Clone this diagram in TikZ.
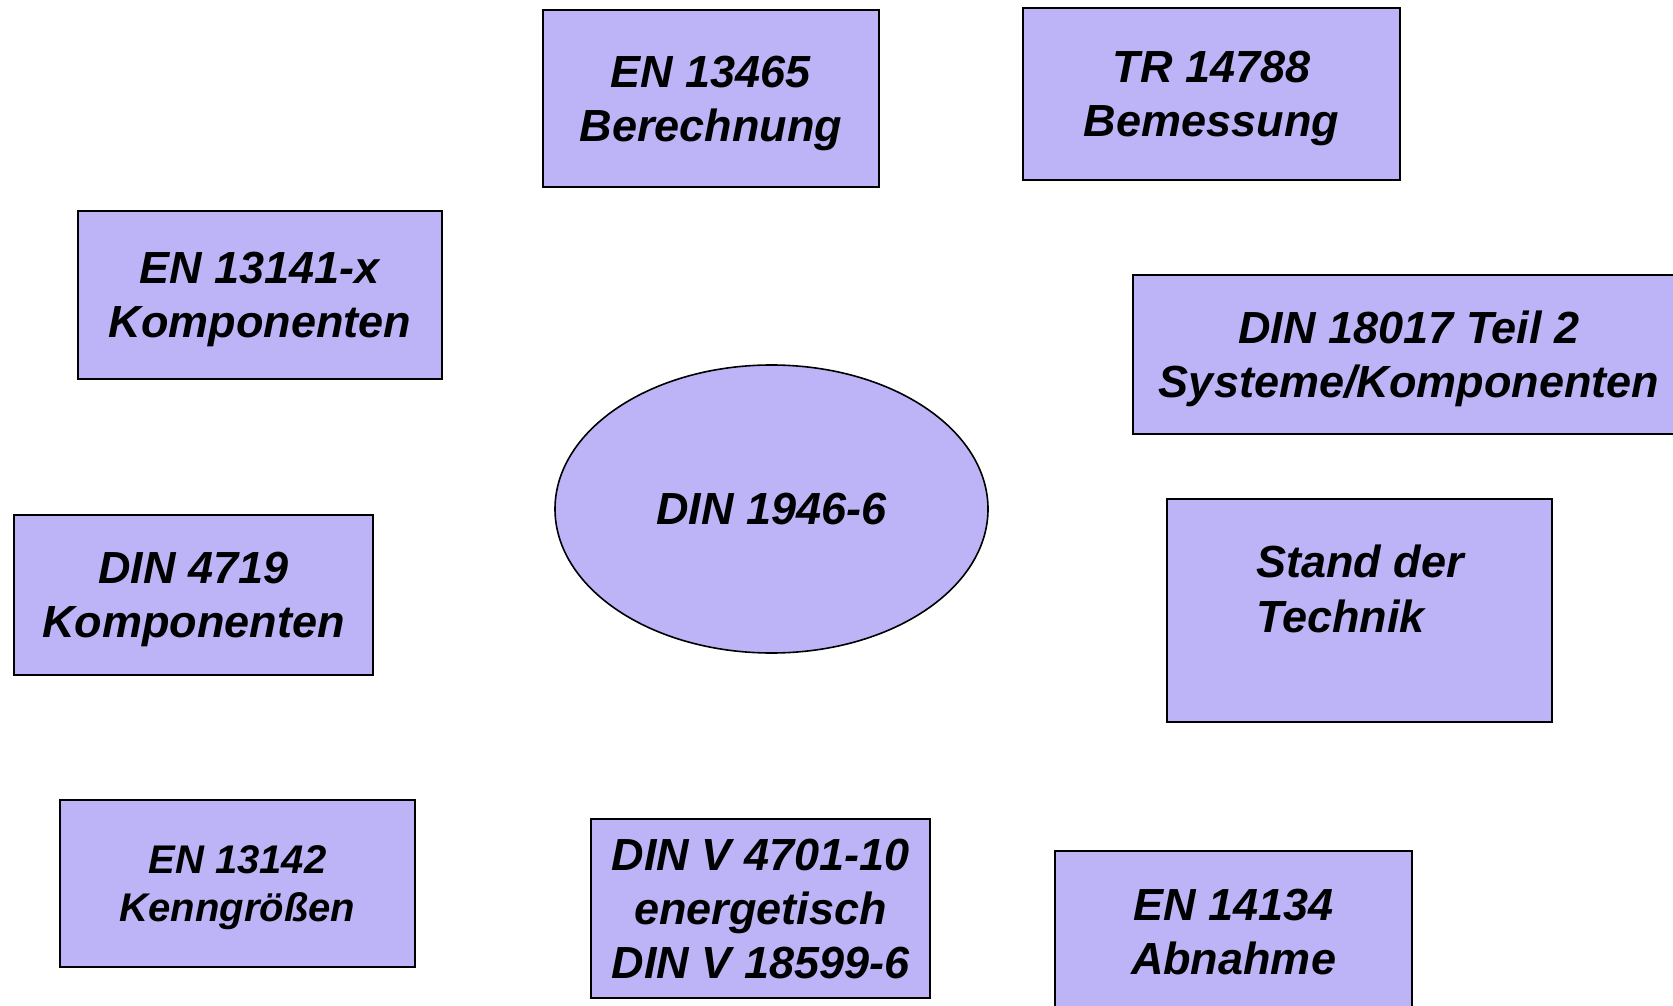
\documentclass[tikz,border=0pt]{standalone}
\usepackage{fontspec}
\setmainfont{Liberation Sans}
\usetikzlibrary{shapes.geometric}
\definecolor{normfill}{RGB}{189,180,247}
\tikzset{
  normbox/.style={draw=black, line width=1.6pt, fill=normfill, rectangle,
    inner sep=0pt, align=center, text depth=0pt,
    font=\fontsize{45}{54}\selectfont\bfseries\itshape},
  normoval/.style={normbox, ellipse},
  smalltext/.style={font=\fontsize{40}{48}\selectfont\bfseries\itshape},
  freetext/.style={inner sep=0pt, align=left,
    font=\fontsize{45}{55}\selectfont\bfseries\itshape}
}
\begin{document}
\begin{tikzpicture}[x=1pt, y=-1pt]
  \useasboundingbox (0,0) rectangle (1673,1006);
  \clip (0,0) rectangle (1673,1006);

  \node[normbox, minimum width=336, minimum height=177] (berechnung) at (711,98.5)
    {EN 13465\\Berechnung};
  \node[normbox, minimum width=377, minimum height=172] (bemessung) at (1211.5,94)
    {TR 14788\\Bemessung};
  \node[normbox, minimum width=364, minimum height=168] (komp1) at (260,295)
    {EN 13141-x\\Komponenten};
  \node[normbox, minimum width=552, minimum height=159] (systeme) at (1409,354.5)
    {DIN 18017 Teil 2\\Systeme/Komponenten};
  \node[normoval, minimum width=433, minimum height=288] (kern) at (771.5,509)
    {DIN 1946-6};
  \node[normbox, minimum width=359, minimum height=160] (komp2) at (193.5,595)
    {DIN 4719\\Komponenten};
  \node[normbox, minimum width=385, minimum height=223] (technik) at (1359.5,610.5) {};
  \node[freetext, anchor=base west] (techniktext) at (1256,632)
    {Stand der\\Technik};
  \node[normbox, smalltext, minimum width=355, minimum height=167] (kenn) at (237.5,883.5)
    {EN 13142\\Kenngrößen};
  \node[normbox, minimum width=339, minimum height=179] (energie) at (760.5,908.5)
    {DIN V 4701-10\\energetisch\\DIN V 18599-6};
  \node[normbox, minimum width=357, minimum height=162] (abnahme) at (1233.5,932)
    {EN 14134\\Abnahme};
\end{tikzpicture}
\end{document}
